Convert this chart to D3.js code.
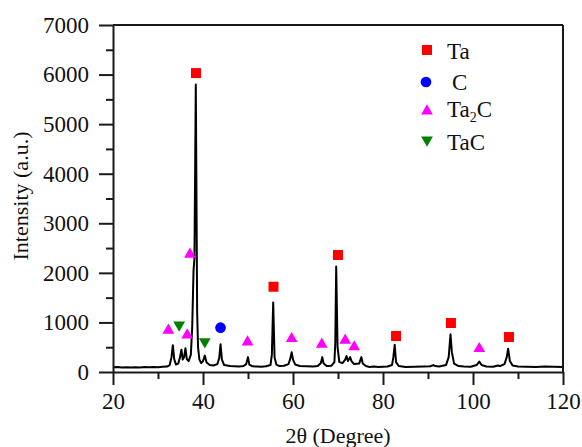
<!DOCTYPE html>
<html>
<head>
<meta charset="utf-8">
<script src="https://cdn.jsdelivr.net/npm/d3@7"></script>
<style>
  body { margin: 0; background: #fff; }
  svg text { font-family: "Liberation Serif", "Times New Roman", serif; fill: #111; }
</style>
</head>
<body>
<div id="chart"></div>
<script>
"use strict";
// XRD pattern, points (2theta, counts)
var spectrum = [
  [20, 95], [21, 100], [22, 92], [23, 98], [24, 90], [25, 97], [26, 93], [27, 100], [28, 95], [29, 102],
  [30, 98], [31, 105], [32, 110], [32.6, 140], [33.0, 300], [33.3, 540], [33.6, 260], [34.0, 150],
  [34.5, 170], [34.9, 300], [35.2, 450], [35.5, 250], [35.8, 300], [36.1, 480], [36.4, 260], [36.8, 220],
  [37.3, 350], [37.6, 900], [37.9, 2050], [38.1, 2300], [38.4, 5800], [38.7, 1200], [38.9, 500],
  [39.2, 250], [39.6, 180], [40.0, 220], [40.4, 330], [40.8, 190], [41.5, 140], [42.3, 130], [43.2, 160],
  [43.6, 280], [43.9, 560], [44.2, 250], [44.7, 140], [46, 120], [47, 115], [48, 110], [49, 120],
  [49.6, 160], [50.0, 300], [50.3, 150], [51, 115], [52, 110], [53, 105], [54, 115], [55, 140],
  [55.3, 350], [55.6, 1400], [55.9, 300], [56.3, 150], [57, 120], [58, 125], [59, 160], [59.4, 270],
  [59.7, 400], [60.0, 250], [60.5, 150], [61.5, 120], [63, 115], [64.5, 110], [65.5, 120], [66.2, 180],
  [66.5, 300], [66.8, 170], [67.5, 120], [68.5, 125], [69.2, 200], [69.4, 600], [69.6, 2130], [69.9, 500],
  [70.3, 200], [71, 180], [71.6, 250], [71.9, 320], [72.2, 220], [72.7, 300], [73.0, 220], [73.6, 160],
  [74.7, 170], [75.2, 300], [75.5, 170], [76.2, 120], [77, 100], [78, 110], [79, 100], [80, 105],
  [81, 110], [82, 140], [82.3, 300], [82.6, 550], [82.9, 200], [83.5, 120], [85, 100], [87, 105],
  [89, 110], [90.5, 115], [91.2, 140], [91.6, 120], [92.5, 110], [94, 140], [94.6, 300], [95.0, 760],
  [95.3, 400], [95.8, 170], [96.8, 120], [98, 110], [99.5, 105], [100.8, 140], [101.4, 210], [101.9, 140],
  [103, 110], [104.5, 105], [105.5, 130], [106, 120], [107, 160], [107.5, 300], [107.8, 470], [108.2, 220],
  [108.8, 130], [110, 110], [112, 105], [114, 100], [116, 110], [118, 105], [120, 100]
];

// phase markers (2theta, height of marker)
var taMarks = [[38.44, 6030], [55.67, 1720], [70.0, 2360], [82.9, 726], [95.1, 988], [108.0, 706]];
var cMarks = [[43.9, 894]];
var ta2cMarks = [[37.1, 2395], [32.3, 861], [36.5, 767], [49.9, 625], [59.7, 692], [66.4, 579],
                 [71.6, 660], [73.6, 525], [101.4, 490]];
var tacMarks = [[34.7, 928], [40.4, 591]];

var xTicks = [20, 40, 60, 80, 100, 120];
var xMinor = [30, 50, 70, 90, 110];
var yTicks = [0, 1000, 2000, 3000, 4000, 5000, 6000, 7000];
var yMinor = [500, 1500, 2500, 3500, 4500, 5500, 6500];

var legendItems = ["Ta", "C", "Ta2C", "TaC"];

var W = 582, H = 447;
var m = {left: 113, right: 19, top: 25, bottom: 75};

var svg = d3.select("#chart").append("svg")
  .attr("width", W).attr("height", H);

var x = d3.scaleLinear().domain([20, 120]).range([m.left, W - m.right]);
var y = d3.scaleLinear().domain([0, 7000]).range([H - m.bottom, m.top]);

var axisCol = "#1a1a1a";

// spectrum
var line = d3.line().x(function(d) { return x(d[0]); }).y(function(d) { return y(d[1]); });
svg.append("path").datum(spectrum)
  .attr("d", line)
  .attr("fill", "none")
  .attr("stroke", "#000")
  .attr("stroke-width", 2)
  .attr("stroke-linejoin", "round");

// frame
svg.append("line").attr("x1", x(20)).attr("x2", x(120)).attr("y1", y(7000)).attr("y2", y(7000))
  .attr("stroke", axisCol).attr("stroke-width", 2);
svg.append("line").attr("x1", x(120)).attr("x2", x(120)).attr("y1", y(7000)).attr("y2", y(0))
  .attr("stroke", axisCol).attr("stroke-width", 2);

// axes
function styleAxis(g) {
  g.select(".domain").attr("stroke", axisCol).attr("stroke-width", 2);
  g.selectAll(".tick line").attr("stroke", axisCol).attr("stroke-width", 2);
  g.selectAll("text").attr("font-size", 23).attr("fill", "#111");
}

var gx = svg.append("g").attr("transform", "translate(0," + y(0) + ")")
  .call(d3.axisBottom(x).tickValues(xTicks).tickSize(13).tickSizeOuter(0).tickPadding(8)
    .tickFormat(d3.format("d")));
styleAxis(gx);
var gxm = svg.append("g").attr("transform", "translate(0," + y(0) + ")")
  .call(d3.axisBottom(x).tickValues(xMinor).tickSize(7).tickFormat(""));
styleAxis(gxm);
gxm.select(".domain").remove();

var gy = svg.append("g").attr("transform", "translate(" + x(20) + ",0)")
  .call(d3.axisLeft(y).tickValues(yTicks).tickSize(14).tickSizeOuter(0).tickPadding(10)
    .tickFormat(d3.format("d")));
styleAxis(gy);
var gym = svg.append("g").attr("transform", "translate(" + x(20) + ",0)")
  .call(d3.axisLeft(y).tickValues(yMinor).tickSize(7).tickFormat(""));
styleAxis(gym);
gym.select(".domain").remove();

// titles
svg.append("text").attr("x", (x(20) + x(120)) / 2).attr("y", 443)
  .attr("text-anchor", "middle").attr("font-size", 22)
  .text("2θ (Degree)");
svg.append("text")
  .attr("transform", "translate(28,196) rotate(-90)")
  .attr("text-anchor", "middle").attr("font-size", 22)
  .text("Intensity (a.u.)");

// markers
var sym = {
  Ta: d3.symbol().type(d3.symbolSquare).size(100),
  C: d3.symbol().type(d3.symbolCircle).size(90),
  tri: d3.symbol().type(d3.symbolTriangle).size(60)
};

svg.append("g").selectAll("path").data(taMarks).join("path")
  .attr("d", sym.Ta())
  .attr("transform", function(d) { return "translate(" + x(d[0]) + "," + y(d[1]) + ")"; })
  .attr("fill", "#ff0000");
svg.append("g").selectAll("path").data(cMarks).join("path")
  .attr("d", sym.C())
  .attr("transform", function(d) { return "translate(" + x(d[0]) + "," + y(d[1]) + ")"; })
  .attr("fill", "#0000ff");
svg.append("g").selectAll("path").data(ta2cMarks).join("path")
  .attr("d", sym.tri())
  .attr("transform", function(d) { return "translate(" + x(d[0]) + "," + (y(d[1]) + 1) + ")"; })
  .attr("fill", "#ff00ff");
svg.append("g").selectAll("path").data(tacMarks).join("path")
  .attr("d", sym.tri())
  .attr("transform", function(d) { return "translate(" + x(d[0]) + "," + (y(d[1]) - 1) + ") rotate(180)"; })
  .attr("fill", "#008000");

// legend
var legY = [50, 82, 110, 141];
var legTextY = [59, 90, 117, 150];
var leg = svg.append("g");
leg.append("path").attr("d", sym.Ta()).attr("transform", "translate(427," + legY[0] + ")").attr("fill", "#ff0000");
leg.append("path").attr("d", sym.C()).attr("transform", "translate(426," + legY[1] + ")").attr("fill", "#0000ff");
leg.append("path").attr("d", sym.tri()).attr("transform", "translate(427," + (legY[2] + 1) + ")").attr("fill", "#ff00ff");
leg.append("path").attr("d", sym.tri()).attr("transform", "translate(427," + (legY[3] - 1) + ") rotate(180)").attr("fill", "#008000");

leg.append("text").attr("x", 447).attr("y", legTextY[0]).attr("font-size", 23).text(legendItems[0]);
leg.append("text").attr("x", 452).attr("y", legTextY[1]).attr("font-size", 23).text(legendItems[1]);
var t2 = leg.append("text").attr("x", 447).attr("y", legTextY[2]).attr("font-size", 23);
t2.append("tspan").text("Ta");
t2.append("tspan").attr("font-size", 14).attr("dy", 5).text("2");
t2.append("tspan").attr("dy", -5).text("C");
leg.append("text").attr("x", 447).attr("y", legTextY[3]).attr("font-size", 23).text(legendItems[3]);
</script>
</body>
</html>
